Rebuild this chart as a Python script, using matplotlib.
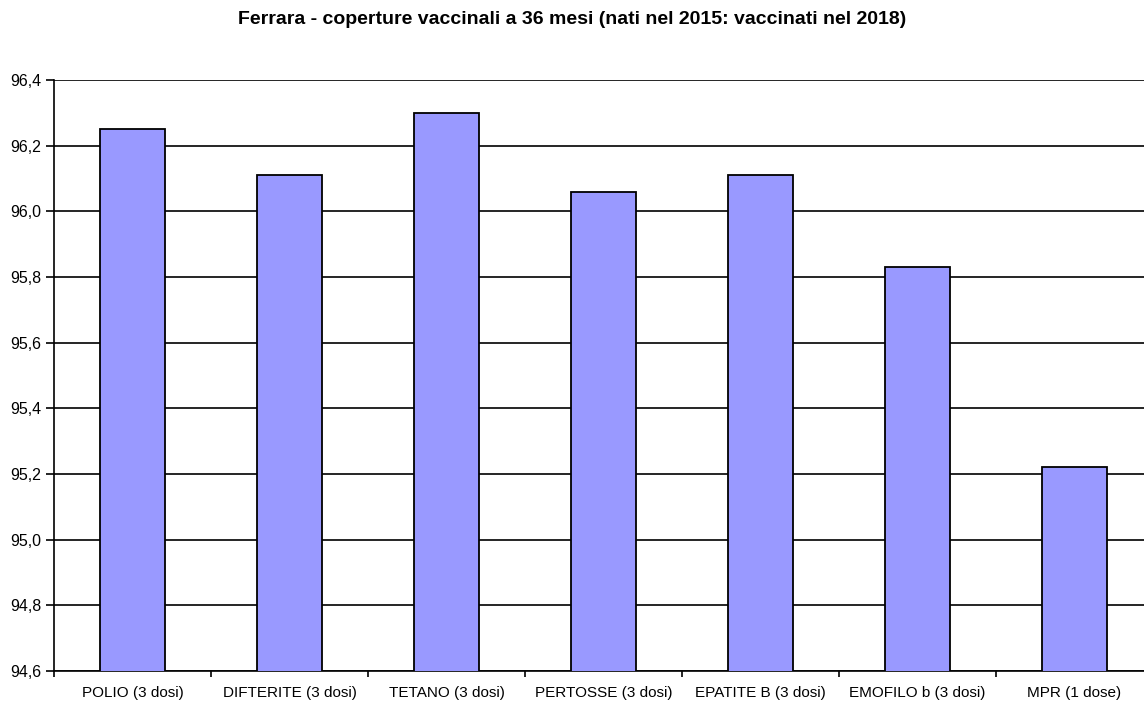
import matplotlib.pyplot as plt
import numpy as np
from matplotlib.ticker import FuncFormatter

plt.rcParams['font.family'] = ['Liberation Sans', 'DejaVu Sans']

categories = ["POLIO (3 dosi)", "DIFTERITE (3 dosi)", "TETANO (3 dosi)", "PERTOSSE (3 dosi)",
              "EPATITE B (3 dosi)", "EMOFILO b (3 dosi)", "MPR (1 dose)"]
values = [96.25, 96.11, 96.30, 96.06, 96.11, 95.83, 95.22]
yticks = [94.6, 94.8, 95.0, 95.2, 95.4, 95.6, 95.8, 96.0, 96.2, 96.4]

fig = plt.figure(figsize=(11.44, 7.04), dpi=100)
ax = fig.add_axes([54/1144, 33/704, 1099/1144, 591/704])

x = np.arange(len(categories))
ax.set_axisbelow(True)
ax.yaxis.grid(True, color="black", linewidth=1.2)
ax.bar(x, values, width=0.41, color="#9999FF", edgecolor="black", linewidth=1.3, zorder=3)

ax.set_xlim(-0.5, len(categories) - 0.5)
ax.set_ylim(94.6, 96.4)
ax.set_yticks(yticks)
ax.yaxis.set_major_formatter(FuncFormatter(lambda v, p: f"{v:.1f}".replace(".", ",")))
ax.set_xticks(x)
ax.set_xticklabels(categories)
ax.set_xticks(np.arange(len(categories) + 1) - 0.5, minor=True)
ax.tick_params(axis="x", which="major", length=0, pad=11, labelsize=11)
ax.tick_params(axis="x", which="minor", length=4, width=1.2, direction="out")
ax.tick_params(axis="y", length=6, width=1.2, labelsize=11.5, pad=3)

for s in ["top", "right"]:
    ax.spines[s].set_visible(False)
for s in ["left", "bottom"]:
    ax.spines[s].set_linewidth(1.2)

fig.text(0.5, 1 - 20/704, "Ferrara - coperture vaccinali a 36 mesi (nati nel 2015: vaccinati nel 2018)",
         ha="center", va="center", fontsize=14, fontweight="bold")

fig.savefig("out.png", dpi=100)
